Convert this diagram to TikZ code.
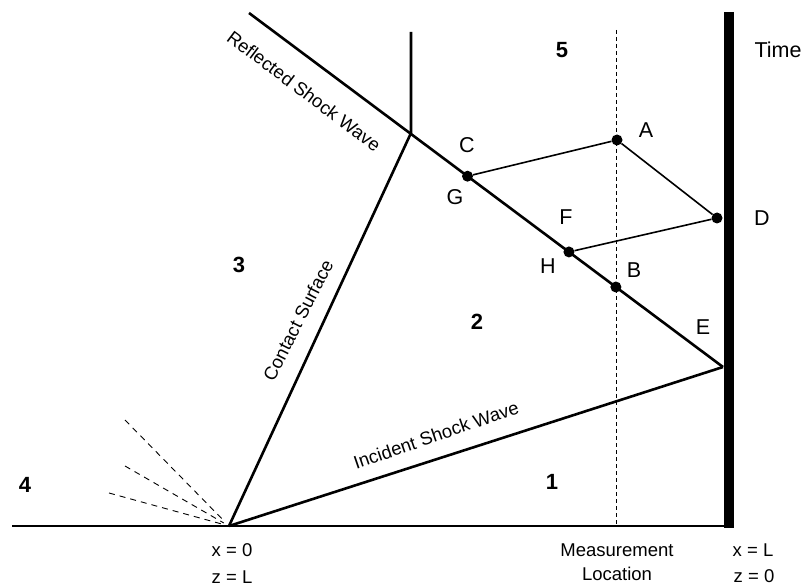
\documentclass[tikz,border=0pt]{standalone}
\usepackage{fontspec}
\setmainfont{Liberation Sans}
\usetikzlibrary{calc}
\begin{document}
\begin{tikzpicture}[x=1pt, y=-1pt,
    wave/.style={line width=2.6pt},
    path line/.style={line width=1.6pt},
    fan/.style={dashed, line width=0.9pt, dash pattern=on 6pt off 5pt},
    dot/.style={circle, fill=black, inner sep=0pt, minimum size=11pt},
    lbl/.style={font=\fontsize{21.5}{23}\selectfont},
    region/.style={font=\fontsize{22}{24}\selectfont\bfseries},
    axis lbl/.style={font=\fontsize{18.5}{24}\selectfont, align=center},
    wave lbl/.style={font=\fontsize{18.5}{20}\selectfont}]
    \useasboundingbox (0,0) rectangle (804,588);

    % key points of the diagram
    \coordinate (O) at (229,526);
    \coordinate (E) at (723,367);
    \coordinate (J) at (411,133);
    \coordinate (Jtop) at (411,32);
    \coordinate (Rstart) at (249,13);
    \coordinate (left) at (12,526);
    \coordinate (foot) at (724,526);
    \coordinate (wallT) at (729,12);
    \coordinate (wallB) at (729,528);
    \coordinate (measT) at (616,30);
    \coordinate (measB) at (616,526);

    % ground line and end wall
    \draw[wave] (left) -- (foot);
    \draw[line width=10pt] (wallT) -- (wallB);

    % measurement location
    \draw[dashed, line width=0.8pt, dash pattern=on 4pt off 3pt] (measT) -- (measB);

    % expansion fan
    \foreach \p in {(125,420), (125,466), (109,493)} {
        \draw[fan, shorten >=6pt] \p -- (O);
    }

    % waves and contact surface
    \draw[wave] (O) -- (E);
    \draw[wave] (O) -- (J) -- (Jtop);
    \draw[wave] (Rstart) -- (E);

    % points on the reflected shock
    \node[dot] (C) at ($(Rstart)!0.461!(E)$) {};
    \node[dot] (F) at ($(Rstart)!0.675!(E)$) {};
    \node[dot] (B) at ($(Rstart)!0.774!(E)$) {};
    \node[dot] (A) at (617,140) {};
    \node[dot] (D) at (717,218) {};
    \draw[path line] (C) -- (A) -- (D) -- (F);

    % point labels
    \node[lbl] (lA) at (646,130) {A};
    \node[lbl] (lB) at (634,270) {B};
    \node[lbl] (lC) at (467,145) {C};
    \node[lbl] (lD) at (762,218) {D};
    \node[lbl] (lE) at (703,327) {E};
    \node[lbl] (lF) at (566,217) {F};
    \node[lbl] (lG) at (455,197) {G};
    \node[lbl] (lH) at (548,266) {H};
    \node[lbl] (time) at (778,50) {Time};

    % region numbers
    \node[region] (r1) at (552,482) {1};
    \node[region] (r2) at (477,322) {2};
    \node[region] (r3) at (239,265) {3};
    \node[region] (r4) at (25,485) {4};
    \node[region] (r5) at (562,50) {5};

    % wave names
    \node[wave lbl, rotate=-37] (refl) at (304,91) {Reflected Shock Wave};
    \node[wave lbl, rotate=63] (cont) at (298,320) {Contact Surface};
    \node[wave lbl, rotate=19] (inc) at (436,435) {Incident Shock Wave};

    % axis labels
    \node[axis lbl] (x0) at (232,550) {x = 0};
    \node[axis lbl] (zL) at (232,577) {z = L};
    \node[axis lbl] (meas) at (617,562) {Measurement\\Location};
    \node[axis lbl] (xL) at (753,550) {x = L};
    \node[axis lbl] (z0) at (754,576) {z = 0};
\end{tikzpicture}
\end{document}
